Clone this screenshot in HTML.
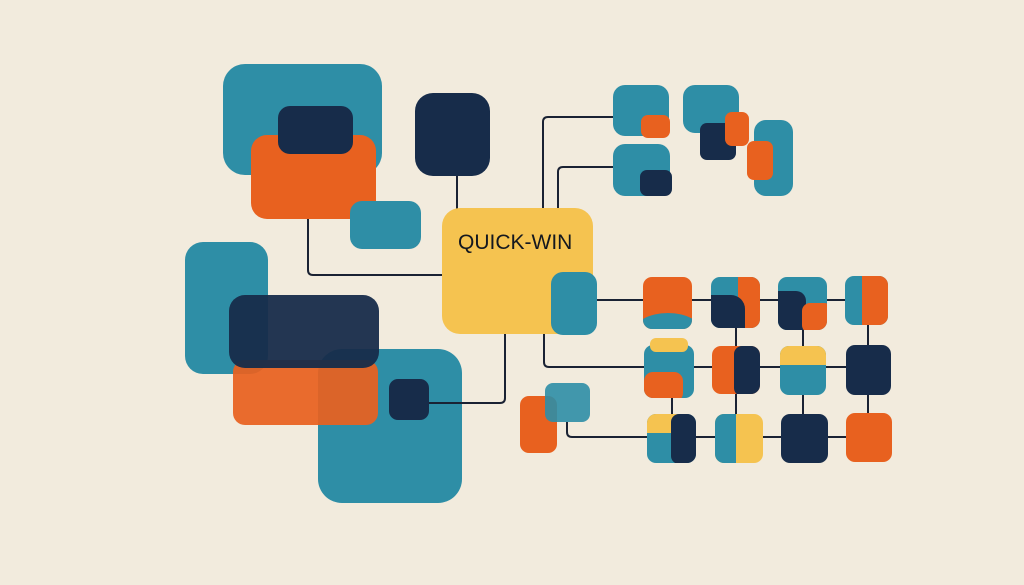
<!DOCTYPE html>
<html><head><meta charset="utf-8"><style>
body{margin:0;width:1024px;height:585px;background:#f2ebdd;position:relative;overflow:hidden;font-family:"Liberation Sans",sans-serif}
.b{position:absolute;border-radius:12px}
.t{background:#2e8ea6}.n{background:#172c4a}.o{background:#e8611f}.y{background:#f5c350}
.c{position:absolute;overflow:hidden;border-radius:9px}
.c>div{position:absolute}
svg{position:absolute;left:0;top:0}
</style></head><body>
<svg width="1024" height="585"><g fill="none" stroke="#1a2233" stroke-width="2">
<path d="M457 176V210"/>
<path d="M308 219V270q0 5 5 5H445"/>
<path d="M543 210V122q0-5 5-5H614"/>
<path d="M558 210V172q0-5 5-5H614"/>
<path d="M544 332V362q0 5 5 5H646"/>
<path d="M429 403H500q5 0 5-5V332"/>
<path d="M567 422V432q0 5 5 5H648"/>
<path d="M597 300H888"/><path d="M694 367H846"/><path d="M696 437H846"/>
<path d="M672 395V414"/><path d="M736 328V414"/><path d="M803 330V414"/><path d="M868 325V413"/>
</g></svg>
<div class="b t" style="left:223px;top:64px;width:159px;height:111px;border-radius:22px"></div>
<div class="b o" style="left:251px;top:135px;width:125px;height:84px;border-radius:16px"></div>
<div class="b n" style="left:278px;top:106px;width:75px;height:48px;border-radius:12px"></div>
<div class="b t" style="left:350px;top:201px;width:71px;height:48px"></div>
<div class="b n" style="left:415px;top:93px;width:75px;height:83px;border-radius:18px"></div>
<div class="b t" style="left:185px;top:242px;width:83px;height:132px;border-radius:18px"></div>
<div class="b t" style="left:318px;top:349px;width:144px;height:154px;border-radius:24px"></div>
<div class="b o" style="left:233px;top:360px;width:145px;height:65px;opacity:.93"></div>
<div class="b n" style="left:229px;top:295px;width:150px;height:73px;border-radius:16px;opacity:.95"></div>
<div class="b n" style="left:389px;top:379px;width:40px;height:41px;border-radius:9px"></div>
<div style="position:absolute;left:429px;top:402px;width:34px;height:2px;background:#1a2233"></div>
<div class="b y" style="left:442px;top:208px;width:151px;height:126px;border-radius:18px"></div>
<div style="position:absolute;left:442px;top:231px;width:151px;padding-left:16px;box-sizing:border-box;font-size:21px;color:#14181f;white-space:nowrap">QUICK-WIN</div>
<div class="b t" style="left:551px;top:272px;width:46px;height:63px"></div>
<div class="b o" style="left:520px;top:396px;width:37px;height:57px;border-radius:9px"></div>
<div class="b t" style="left:545px;top:383px;width:45px;height:39px;border-radius:8px;opacity:.9"></div>
<!-- top right -->
<div class="b t" style="left:613px;top:85px;width:56px;height:51px"></div>
<div class="b o" style="left:641px;top:115px;width:29px;height:23px;border-radius:7px"></div>
<div class="b t" style="left:613px;top:144px;width:57px;height:52px"></div>
<div class="b n" style="left:640px;top:170px;width:32px;height:26px;border-radius:7px"></div>
<div class="b t" style="left:683px;top:85px;width:56px;height:48px"></div>
<div class="b n" style="left:700px;top:123px;width:36px;height:37px;border-radius:7px"></div>
<div class="b o" style="left:725px;top:112px;width:24px;height:34px;border-radius:7px"></div>
<div class="b t" style="left:754px;top:120px;width:39px;height:76px"></div>
<div class="b o" style="left:747px;top:141px;width:26px;height:39px;border-radius:7px"></div>
<!-- grid row1 -->
<div class="c o" style="left:643px;top:277px;width:49px;height:52px"><div class="t" style="left:-10px;top:36px;width:70px;height:40px;border-radius:50%"></div></div>
<div class="c t" style="left:711px;top:277px;width:49px;height:51px"><div class="o" style="left:27px;top:0;width:30px;height:60px"></div><div class="n" style="left:0;top:18px;width:34px;height:40px;border-radius:0 14px 0 0"></div></div>
<div class="c t" style="left:778px;top:277px;width:49px;height:53px"><div class="n" style="left:0;top:14px;width:28px;height:40px;border-radius:0 10px 0 0"></div><div class="o" style="left:24px;top:26px;width:30px;height:30px;border-radius:8px"></div></div>
<div class="c t" style="left:845px;top:276px;width:43px;height:49px"><div class="o" style="left:17px;top:0;width:30px;height:50px"></div></div>
<!-- row2 -->
<div class="c t" style="left:644px;top:345px;width:50px;height:53px"><div class="o" style="left:0;top:27px;width:39px;height:30px;border-radius:9px"></div></div>
<div class="b y" style="left:650px;top:338px;width:38px;height:14px;border-radius:6px"></div>
<div class="c o" style="left:712px;top:346px;width:48px;height:48px"><div class="n" style="left:22px;top:0;width:30px;height:50px;border-radius:8px"></div></div>
<div class="c t" style="left:780px;top:346px;width:46px;height:49px"><div class="y" style="left:0;top:0;width:46px;height:19px"></div></div>
<div class="c n" style="left:846px;top:345px;width:45px;height:50px"></div>
<!-- row3 -->
<div class="c t" style="left:647px;top:414px;width:49px;height:49px"><div class="y" style="left:0;top:0;width:35px;height:19px;border-radius:0 0 8px 0"></div><div class="n" style="left:24px;top:0;width:30px;height:50px;border-radius:8px"></div></div>
<div class="c y" style="left:715px;top:414px;width:48px;height:49px"><div class="t" style="left:0;top:0;width:21px;height:49px"></div></div>
<div class="c n" style="left:781px;top:414px;width:47px;height:49px"></div>
<div class="c o" style="left:846px;top:413px;width:46px;height:49px"></div>
</body></html>
